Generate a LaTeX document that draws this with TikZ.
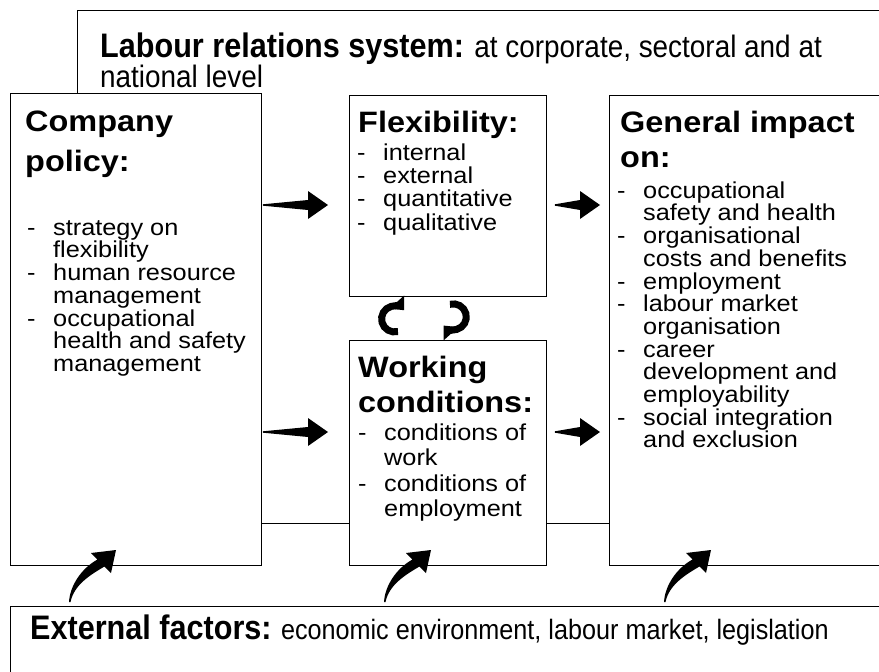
\documentclass[tikz,border=0pt]{standalone}
\usepackage{fontspec}
\setmainfont{Liberation Sans}
\newfontfamily\widefont{Liberation Sans}[FakeStretch=1.1]
\newfontfamily\narrowfont{Liberation Sans}[FakeStretch=0.9]
\usetikzlibrary{calc,arrows.meta,positioning}

\newcommand{\dashit}{\makebox[26pt][l]{-}}
\newcommand{\cont}{\hspace*{26pt}}
\newcommand{\topln}{\rule{0pt}{20pt}}

\tikzset{
  box/.style={draw, fill=white, line width=0.9pt, anchor=north west, inner sep=0pt},
  head/.style={anchor=north west, inner sep=0pt, align=left,
    font=\widefont\bfseries\fontsize{29.5}{35}\selectfont},
  items/.style={anchor=north west, inner sep=0pt, align=left,
    font=\widefont\fontsize{23}{22.7}\selectfont},
  cycarrow/.style={line width=7pt, -{Triangle[width=19pt,length=11pt]}},
  pics/uparrow/.style={code={
    \fill (0,0) .. controls (1,-17) and (13,-34) .. (28.5,-42.5)
      -- (22,-49) -- (47,-52) -- (42,-29) -- (35.5,-35.5)
      .. controls (21,-27) and (5,-17) .. (1.5,0) -- cycle;
  }}
}

% tapered straight arrow from #1 to #2
\newcommand{\fatarrow}[2]{%
  \coordinate (hb) at ($(#2)!20pt!(#1)$);
  \fill ($(#1)!0.7pt!90:(#2)$) -- ($(hb)!5pt!90:(#2)$) -- ($(hb)!14pt!90:(#2)$)
    -- (#2) -- ($(hb)!14pt!-90:(#2)$) -- ($(hb)!5pt!-90:(#2)$)
    -- ($(#1)!0.7pt!-90:(#2)$) -- cycle;
}

\begin{document}
\begin{tikzpicture}[x=1pt, y=-1pt]
\useasboundingbox (0,0) rectangle (879,672);
\clip (0,0) rectangle (879,672);

% frame of the labour relations system
\node[box, minimum width=840pt, minimum height=513pt] (lrs) at (77,10) {};
\node[anchor=north west, inner sep=0pt, font=\narrowfont\fontsize{31}{27}\selectfont] (lrstxt)
  at ($(lrs.north west)+(23,21)$)
  {\begin{tabular}[t]{@{}l@{}}\rule{0pt}{26pt}{\fontsize{34}{27}\selectfont\bfseries Labour relations system:} at corporate, sectoral and at\\ national level\end{tabular}};

% the four boxes
\node[box, minimum width=251pt, minimum height=472pt] (cp) at (10,93) {};
\node[box, minimum width=197pt, minimum height=201pt] (flex) at (349,95) {};
\node[box, minimum width=197pt, minimum height=225pt] (wc) at (349,340) {};
\node[box, minimum width=300pt, minimum height=470pt] (gi) at (609,95) {};
\node[box, minimum width=900pt, minimum height=100pt] (ext) at (10,606) {};

% texts
\node[head] (cphead) at ($(cp.north west)+(15,13)$) {\rule{0pt}{25pt}Company\\[5pt]policy:};
\node[items] (cplist) at ($(cp.north west)+(17,122)$)
  {\topln\dashit strategy on\\ \cont flexibility\\ \dashit human resource\\ \cont management\\
   \dashit occupational\\ \cont health and safety\\ \cont management};

\node[head] (flexhead) at ($(flex.north west)+(9,12)$) {\rule{0pt}{25pt}Flexibility:};
\node[items, font=\widefont\fontsize{23}{23.3}\selectfont] (flexlist) at ($(flex.north west)+(8,45)$)
  {\topln\dashit internal\\ \dashit external\\ \dashit quantitative\\ \dashit qualitative};

\node[head] (wchead) at ($(wc.north west)+(9,12)$) {\rule{0pt}{25pt}Working\\ conditions:};
\node[items, font=\widefont\fontsize{23}{25.5}\selectfont] (wclist) at ($(wc.north west)+(9,80)$)
  {\topln\dashit conditions of\\ \cont work\\ \dashit conditions of\\ \cont employment};

\node[head] (gihead) at ($(gi.north west)+(11,12)$) {\rule{0pt}{25pt}General impact\\ on:};
\node[items] (gilist) at ($(gi.north west)+(8,83)$)
  {\topln\dashit occupational\\ \cont safety and health\\ \dashit organisational\\ \cont costs and benefits\\
   \dashit employment\\ \dashit labour market\\ \cont organisation\\ \dashit career\\
   \cont development and\\ \cont employability\\ \dashit social integration\\ \cont and exclusion};

\node[anchor=north west, inner sep=0pt, font=\narrowfont\fontsize{28}{30}\selectfont] (exttxt)
  at ($(ext.north west)+(20,9)$)
  {\rule{0pt}{21pt}{\fontsize{34}{30}\selectfont\bfseries External factors:} economic environment, labour market, legislation};

% arrows between the boxes
\coordinate (a1) at ($(cp.east |- 0,205)+(1,0)$);
\coordinate (a2) at ($(flex.west |- 0,205)+(-21,0)$);
\coordinate (a3) at ($(cp.east |- 0,432)+(1,0)$);
\coordinate (a4) at ($(wc.west |- 0,432)+(-21,0)$);
\coordinate (a5) at ($(flex.east |- 0,205)+(8,0)$);
\coordinate (a6) at ($(gi.west |- 0,205)+(-9,0)$);
\coordinate (a7) at ($(wc.east |- 0,432)+(8,0)$);
\coordinate (a8) at ($(gi.west |- 0,432)+(-9,0)$);
\foreach \s/\e in {a1/a2,a3/a4,a5/a6,a7/a8}
  \fatarrow{\s}{\e};

% flexibility and working conditions act on each other
\draw[cycarrow] ($(flex.south)+(-50,34.6)$) arc[start angle=75, end angle=318, radius=13];
\draw[cycarrow] ($(flex.south)+(2,7.4)$) arc[start angle=-105, end angle=138, radius=13];

% external factors
\foreach \x in {69,384,664}
  \pic at ($(ext.north west |- 0,602)+(\x-10,0)$) {uparrow};
\end{tikzpicture}
\end{document}
